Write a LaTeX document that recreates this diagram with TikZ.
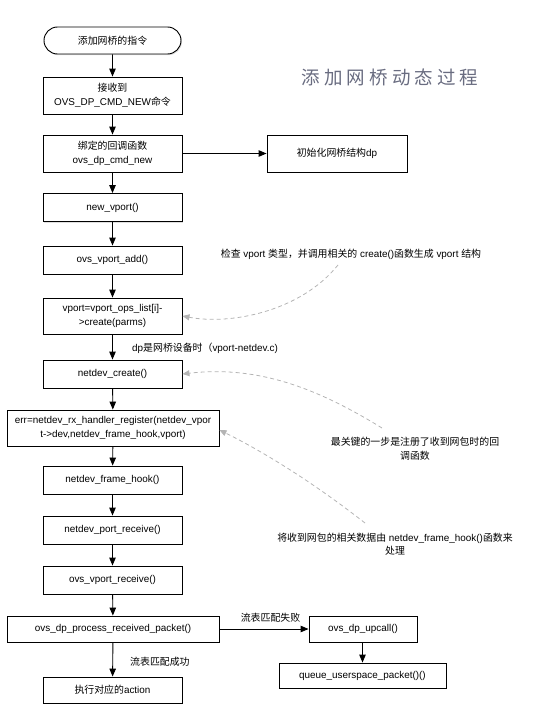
\documentclass[tikz,border=0pt]{standalone}
\usepackage{fontspec}
\setmainfont{Liberation Sans}
\newfontfamily\cjk{Noto Sans CJK SC}
\newfontfamily\titlefont[LetterSpace=22]{Noto Sans CJK SC}
\usetikzlibrary{arrows.meta,shapes.misc,shadows}
\definecolor{titlegray}{RGB}{105,108,128}
\definecolor{notegray}{RGB}{180,180,180}
\tikzset{
  box/.style={draw=black, line width=0.9pt, fill=white, rectangle, minimum width=139pt, align=center,
    font=\fontsize{9.9}{13.5}\selectfont, inner sep=1pt,
    drop shadow={opacity=0.25, shadow xshift=1pt, shadow yshift=-1.2pt}},
  term/.style={box, rounded rectangle},
  flow/.style={line width=0.9pt, -{Triangle[length=8pt,width=6.5pt]}},
  note/.style={draw=notegray, line width=0.8pt, dashed, dash pattern=on 4pt off 3pt, -{Triangle[length=7pt,width=6pt]}},
  lbl/.style={font=\fontsize{9.9}{13.5}\selectfont, align=center, inner sep=0pt},
}
\begin{document}
\begin{tikzpicture}[x=1pt,y=-1pt]
\useasboundingbox (0,0) rectangle (540,720);
\node[term, minimum height=27pt] (start) at (112.5,40.5) {{\cjk 添加网桥的指令}};
\node[box, minimum height=37pt] (recv) at (112.5,95.5) {{\cjk 接收到}\\OVS\_DP\_CMD\_NEW{\cjk 命令}};
\node[box, minimum height=37pt] (bind) at (112.5,153.5) {{\cjk 绑定的回调函数}\\ovs\_dp\_cmd\_new};
\node[box, minimum height=37pt, minimum width=140pt] (init) at (337,153.5) {{\cjk 初始化网桥结构}dp};
\node[box, minimum height=28pt] (newv) at (112.5,207.5) {new\_vport()};
\node[box, minimum height=28pt] (vadd) at (112.5,260) {ovs\_vport\_add()};
\node[box, minimum height=36pt] (vcre) at (112.5,316) {vport=vport\_ops\_list[i]-\\>create(parms)};
\node[box, minimum height=28pt] (ndc) at (112.5,374) {netdev\_create()};
\node[box, minimum height=36pt, minimum width=212pt] (reg) at (113,428) {err=netdev\_rx\_handler\_register(netdev\_vpor\\t->dev,netdev\_frame\_hook,vport)};
\node[box, minimum height=28pt] (hook) at (112.5,480) {netdev\_frame\_hook()};
\node[box, minimum height=28pt] (prec) at (112.5,530) {netdev\_port\_receive()};
\node[box, minimum height=28pt] (vrec) at (112.5,580) {ovs\_vport\_receive()};
\node[box, minimum height=26pt, minimum width=212pt] (proc) at (113,629) {ovs\_dp\_process\_received\_packet()};
\node[box, minimum height=26pt] (act) at (112.5,690) {{\cjk 执行对应的}action};
\node[box, minimum height=26pt, minimum width=108pt] (upc) at (363,629) {ovs\_dp\_upcall()};
\node[box, minimum height=25pt, minimum width=167pt] (queue) at (362.5,675.5) {queue\_userspace\_packet()()};

\node[inner sep=0pt, text=titlegray, font=\titlefont\fontsize{18.5}{21}\selectfont] (title) at (390,77) {添加网桥动态过程};

\draw[flow] (start) -- (recv);
\draw[flow] (recv) -- (bind);
\draw[flow] (bind) -- (init);
\draw[flow] (bind) -- (newv);
\draw[flow] (newv) -- (vadd);
\draw[flow] (vadd) -- (vcre);
\draw[flow] (vcre) -- (ndc);
\draw[flow] (ndc) -- (reg);
\draw[flow] (reg) -- (hook);
\draw[flow] (hook) -- (prec);
\draw[flow] (prec) -- (vrec);
\draw[flow] (vrec) -- (proc);
\draw[flow] (proc) -- (act);
\draw[flow] (proc) -- (upc);
\draw[flow] (upc.south -| queue.north) -- (queue);

\node[lbl, anchor=west] (l1) at (132,348) {dp{\cjk 是网桥设备时（}vport-netdev.c)};
\node[lbl, anchor=west] (l2) at (130,662) {\cjk 流表匹配成功};
\node[lbl] (l3) at (270.5,618) {\cjk 流表匹配失败};

\node[lbl] (n1) at (351,254) {{\cjk 检查} vport {\cjk 类型，并调用相关的} create(){\cjk 函数生成} vport {\cjk 结构}};
\node[lbl, font=\cjk\fontsize{9.9}{14}\selectfont] (n2) at (415,449) {最关键的一步是注册了收到网包时的回\\调函数};
\node[lbl] (n3) at (395,544) {{\cjk 将收到网包的相关数据由} netdev\_frame\_hook(){\cjk 函数来}\\{\cjk 处理}};

\coordinate (c1) at (338,265);
\coordinate (c2) at (382,428);
\coordinate (c3) at (365,523);
\draw[note] (c1) .. controls (300,312) and (230,325) .. (vcre.east);
\draw[note] (c2) .. controls (320,390) and (260,365) .. (ndc.east);
\draw[note] (c3) .. controls (310,480) and (260,450) .. ([yshift=-2pt]reg.east);
\end{tikzpicture}
\end{document}
